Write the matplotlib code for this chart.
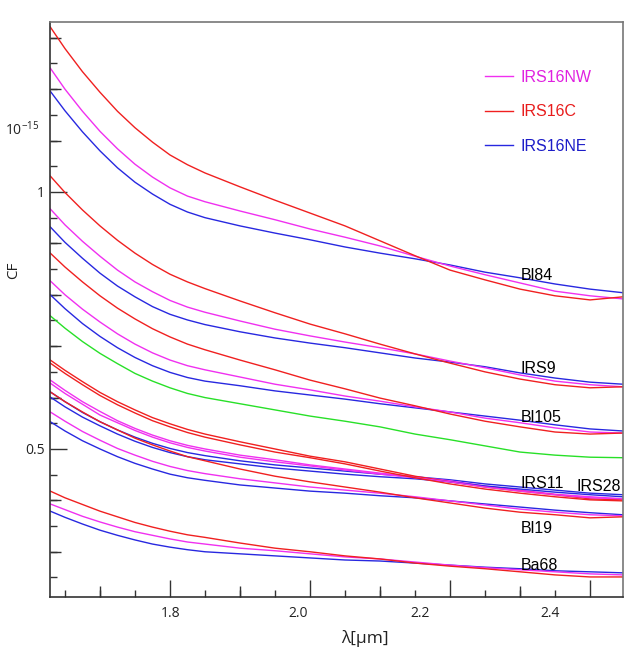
import matplotlib
matplotlib.use("Agg")
import matplotlib.pyplot as plt
from matplotlib.ticker import FixedLocator, MultipleLocator, NullFormatter
from matplotlib.lines import Line2D

# ---------------- data ----------------
wavelength = [1.629, 1.65, 1.675, 1.70, 1.725, 1.75, 1.775, 1.80, 1.825, 1.85, 1.90,
              1.95, 2.00, 2.05, 2.10, 2.15, 2.20, 2.25, 2.30, 2.35, 2.40, 2.447]

# IRS16C (red), IRS16NW (magenta), IRS16NE (blue) for each star
bl84_c = [1.321,1.279,1.234,1.194,1.157,1.125,1.097,1.072,1.053,1.037,1.010,0.984,0.959,0.934,0.905,0.876,0.848,0.829,0.811,0.798,0.790,0.796]
bl84_nw = [1.241,1.200,1.157,1.118,1.084,1.054,1.029,1.008,0.992,0.981,0.963,0.946,0.928,0.912,0.895,0.875,0.856,0.839,0.823,0.807,0.798,0.792]
bl84_ne = [1.196,1.158,1.117,1.080,1.047,1.019,0.996,0.976,0.961,0.950,0.934,0.920,0.907,0.893,0.881,0.870,0.858,0.844,0.833,0.821,0.811,0.804]

irs9_c = [1.031,0.999,0.965,0.934,0.906,0.881,0.859,0.840,0.825,0.812,0.788,0.765,0.743,0.724,0.704,0.685,0.667,0.650,0.636,0.625,0.619,0.621]
irs9_nw = [0.967,0.936,0.904,0.875,0.848,0.825,0.806,0.789,0.776,0.766,0.749,0.733,0.720,0.708,0.697,0.685,0.671,0.658,0.644,0.632,0.625,0.621]
irs9_ne = [0.932,0.902,0.871,0.842,0.817,0.796,0.777,0.762,0.751,0.742,0.728,0.716,0.706,0.697,0.687,0.677,0.669,0.660,0.648,0.638,0.630,0.626]

bl105_c = [0.881,0.854,0.825,0.798,0.774,0.753,0.734,0.718,0.704,0.693,0.673,0.654,0.634,0.617,0.599,0.584,0.568,0.554,0.543,0.533,0.529,0.531]
bl105_nw = [0.827,0.800,0.772,0.747,0.724,0.704,0.687,0.673,0.662,0.654,0.640,0.626,0.615,0.603,0.593,0.582,0.572,0.560,0.551,0.541,0.533,0.531]
bl105_ne = [0.800,0.773,0.744,0.719,0.697,0.678,0.662,0.649,0.639,0.632,0.623,0.613,0.605,0.597,0.588,0.580,0.572,0.564,0.556,0.547,0.539,0.535]

green_curve = [0.759,0.735,0.709,0.686,0.666,0.647,0.632,0.619,0.608,0.600,0.588,0.576,0.564,0.554,0.543,0.529,0.518,0.506,0.494,0.488,0.484,0.483]

irs11_c = [0.673,0.653,0.631,0.610,0.592,0.576,0.561,0.549,0.538,0.529,0.514,0.500,0.486,0.475,0.461,0.447,0.436,0.426,0.418,0.411,0.403,0.401]
irs11_nw = [0.634,0.614,0.592,0.573,0.555,0.540,0.527,0.516,0.507,0.500,0.488,0.479,0.469,0.461,0.453,0.446,0.438,0.428,0.420,0.412,0.407,0.403]
irs11_ne = [0.611,0.592,0.571,0.553,0.537,0.523,0.511,0.501,0.493,0.487,0.477,0.469,0.463,0.457,0.451,0.446,0.440,0.432,0.426,0.420,0.414,0.411]

irs28_c = [0.667,0.647,0.625,0.604,0.586,0.570,0.555,0.543,0.532,0.523,0.508,0.494,0.483,0.471,0.457,0.444,0.432,0.422,0.414,0.407,0.401,0.399]
irs28_nw = [0.628,0.608,0.587,0.566,0.551,0.536,0.523,0.512,0.503,0.496,0.484,0.475,0.467,0.459,0.451,0.444,0.436,0.426,0.418,0.411,0.405,0.403]
irs28_ne = [0.601,0.582,0.562,0.545,0.529,0.515,0.503,0.493,0.485,0.479,0.471,0.463,0.457,0.451,0.446,0.442,0.436,0.428,0.422,0.416,0.411,0.407]

bl19_c = [0.611,0.592,0.572,0.553,0.537,0.521,0.508,0.496,0.485,0.477,0.461,0.447,0.436,0.426,0.416,0.405,0.395,0.385,0.377,0.372,0.366,0.368]
bl19_nw = [0.572,0.554,0.534,0.517,0.501,0.488,0.476,0.466,0.458,0.452,0.442,0.434,0.426,0.420,0.414,0.407,0.399,0.391,0.383,0.377,0.372,0.370]
bl19_ne = [0.553,0.535,0.516,0.500,0.485,0.472,0.461,0.451,0.444,0.439,0.430,0.424,0.418,0.414,0.409,0.405,0.399,0.393,0.387,0.381,0.376,0.372]

ba68_c = [0.418,0.405,0.392,0.379,0.368,0.357,0.348,0.340,0.333,0.328,0.317,0.307,0.300,0.292,0.286,0.278,0.272,0.267,0.261,0.255,0.251,0.251]
ba68_nw = [0.393,0.382,0.369,0.358,0.348,0.339,0.332,0.325,0.319,0.315,0.307,0.302,0.296,0.290,0.286,0.280,0.274,0.269,0.265,0.261,0.257,0.255]
ba68_ne = [0.379,0.367,0.354,0.342,0.332,0.323,0.315,0.309,0.304,0.300,0.296,0.292,0.288,0.284,0.282,0.278,0.274,0.270,0.267,0.263,0.261,0.259]

star_names = ["Bl84", "IRS9", "Bl105", "IRS11", "IRS28", "Bl19", "Ba68"]
star_label_x = [2.301, 2.301, 2.301, 2.301, 2.381, 2.301, 2.301]
star_label_y = [0.829, 0.648, 0.5525, 0.424, 0.418, 0.337, 0.265]

legend_labels = ["IRS16NW", "IRS16C", "IRS16NE"]

x_major = [1.8, 2.0, 2.2, 2.4]
x_tick_text = ["1.8", "2.0", "2.2", "2.4"]
x_tick_text_pos = [1.801, 1.983, 2.157, 2.343]
y_major = [0.5, 1.0]
y_tick_text = ["0.5", "1"]

# ---------------- style ----------------
C_RED = "#f02020"
C_MAG = "#f030f0"
C_BLUE = "#2828e0"
C_GREEN = "#28e028"
LW = 1.0

plt.rcParams["font.family"] = ["Liberation Sans", "DejaVu Sans"]
plt.rcParams["mathtext.fontset"] = "custom"
plt.rcParams["mathtext.rm"] = "Open Sans"
plt.rcParams["mathtext.it"] = "Open Sans"

fig = plt.figure(figsize=(6.36, 6.51), dpi=100)
ax = fig.add_axes([50/636, 1-597/651, 573/636, 575/651])

groups = [
    (bl84_nw, bl84_c, bl84_ne),
    (irs9_nw, irs9_c, irs9_ne),
    (bl105_nw, bl105_c, bl105_ne),
    (irs11_nw, irs11_c, irs11_ne),
    (irs28_nw, irs28_c, irs28_ne),
    (bl19_nw, bl19_c, bl19_ne),
    (ba68_nw, ba68_c, ba68_ne),
]
for nw, c, ne in groups:
    ax.plot(wavelength, ne, color=C_BLUE, lw=LW)
    ax.plot(wavelength, nw, color=C_MAG, lw=LW)
    ax.plot(wavelength, c, color=C_RED, lw=LW)
ax.plot(wavelength, green_curve, color=C_GREEN, lw=LW)

ax.set_xlim(1.6286, 2.4471)
ax.set_ylim(0.212, 1.3307)

# star labels
for name, lx, ly in zip(star_names, star_label_x, star_label_y):
    ax.text(lx, ly, name, fontsize=11.5, color="black", ha="left", va="baseline")

# legend
handles = [Line2D([0], [0], color=C_MAG, lw=LW),
           Line2D([0], [0], color=C_RED, lw=LW),
           Line2D([0], [0], color=C_BLUE, lw=LW)]
leg = ax.legend(handles, legend_labels, loc="upper left",
                bbox_to_anchor=((485-50)/573, (597-70)/575),
                frameon=False, fontsize=11.5, handlelength=1.75,
                handletextpad=0.45, labelspacing=1.22, borderpad=0,
                borderaxespad=0)
for txt, col in zip(leg.get_texts(), ["#e020e0", "#e81c1c", "#1c1cc8"]):
    txt.set_color(col)

# ticks
tick_font = {"family": ["Open Sans", "DejaVu Sans"], "size": 10, "color": "#222222"}
ax.xaxis.set_major_locator(FixedLocator(x_major))
ax.xaxis.set_major_formatter(NullFormatter())
ax.xaxis.set_minor_locator(MultipleLocator(0.05))
ax.yaxis.set_major_locator(FixedLocator(y_major))
ax.set_yticklabels(y_tick_text, fontdict=tick_font)
ax.yaxis.set_minor_locator(MultipleLocator(0.05))
ax.tick_params(axis="both", which="major", direction="in", length=12, width=1.0,
               color="#333333", top=False, right=False)
ax.tick_params(axis="both", which="minor", direction="in", length=5, width=1.0,
               color="#333333", top=False, right=False)
ax.tick_params(axis="y", which="major", pad=4)

# medium ticks every 0.1
secx = ax.secondary_xaxis("bottom")
secx.set_xticks([1.7, 1.9, 2.1, 2.3])
secx.xaxis.set_major_formatter(NullFormatter())
secx.tick_params(direction="in", length=8, width=1.0, color="#333333")
secx.spines["bottom"].set_visible(False)
secy = ax.secondary_yaxis("left")
secy.set_yticks([0.3, 0.4, 0.6, 0.7, 0.8, 0.9, 1.1, 1.2, 1.3])
secy.yaxis.set_major_formatter(NullFormatter())
secy.tick_params(direction="in", length=8, width=1.0, color="#333333")
secy.spines["left"].set_visible(False)

xt = ax.get_xaxis_transform()
for pos, lab in zip(x_tick_text_pos, x_tick_text):
    ax.text(pos, -0.016, lab, transform=xt, ha="center", va="top", fontdict=tick_font)

ax.text(2.079, -0.058, "λ[μm]", transform=xt, ha="center", va="top",
        fontsize=12.5, family=["Open Sans", "DejaVu Sans"], color="#222222")
fig.text(14/636, 1-270/651, "CF", rotation=90, ha="center", va="center",
         fontsize=11, family=["Open Sans", "DejaVu Sans"], color="#222222")
yt = ax.get_yaxis_transform()
ax.text(-0.019, 1.1206, r"10$^{-15}$", transform=yt, ha="right", va="center",
        fontsize=10, family=["Open Sans", "DejaVu Sans"], color="#222222")

for side in ["left", "bottom"]:
    ax.spines[side].set_color("#333333")
    ax.spines[side].set_linewidth(1.2)
for side in ["top", "right"]:
    ax.spines[side].set_color("#777777")
    ax.spines[side].set_linewidth(1.2)

fig.savefig("out.png", dpi=100, facecolor="white")
